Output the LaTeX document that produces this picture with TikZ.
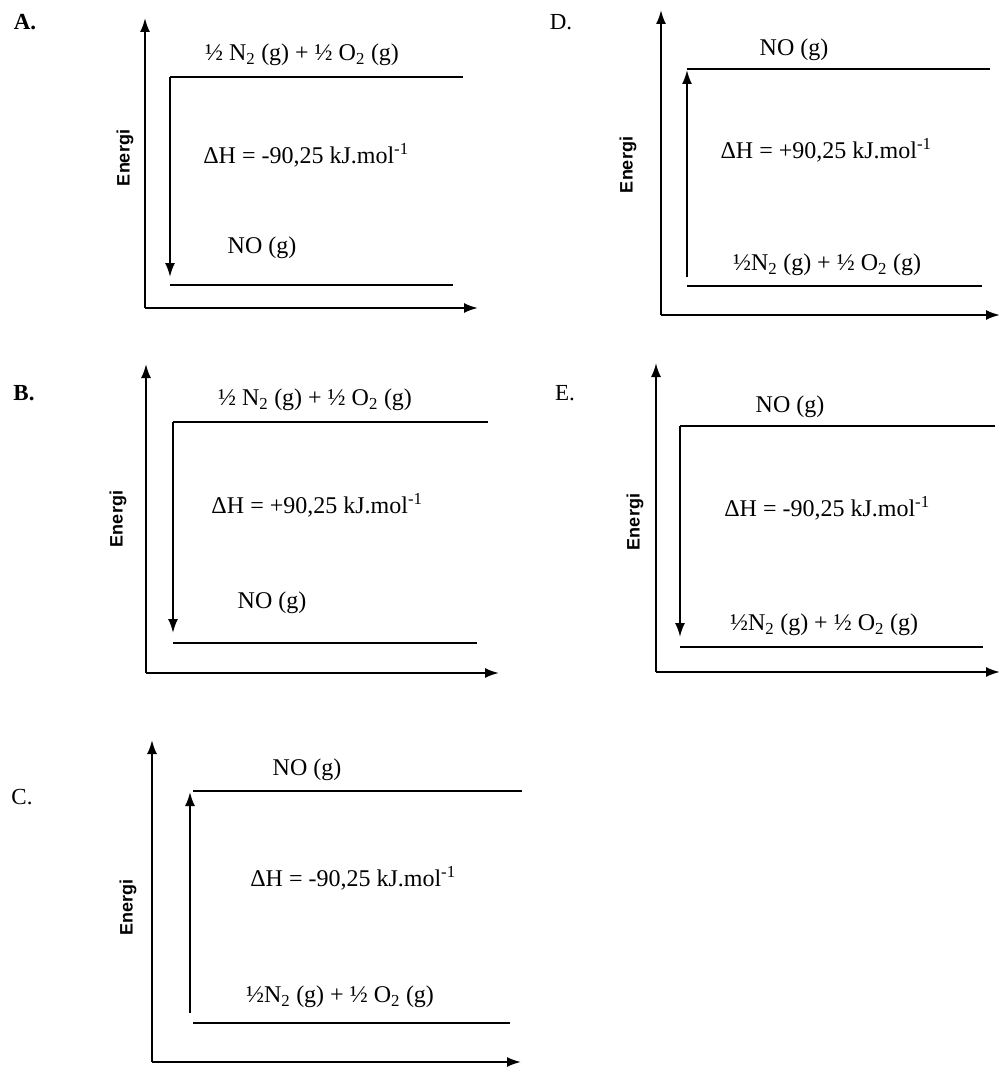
\documentclass[tikz,border=0pt]{standalone}
\usepackage{fontspec}
\setmainfont{Liberation Serif}
\newfontfamily\energifont{Liberation Sans}
\usetikzlibrary{arrows.meta}

% level labels
\newcommand{\reacsp}{½ N\textsubscript{2} (g) + ½ O\textsubscript{2} (g)}
\newcommand{\reacns}{½N\textsubscript{2} (g) + ½ O\textsubscript{2} (g)}
\newcommand{\prodno}{NO (g)}
\newcommand{\dhminus}{ΔH = -90,25 kJ.mol\textsuperscript{-1}}
\newcommand{\dhplus}{ΔH = +90,25 kJ.mol\textsuperscript{-1}}

\begin{document}
\begin{tikzpicture}[
    x=1pt, y=-1pt,
    axis/.style={line width=2pt, -{Latex[length=14pt, width=10pt]}},
    level/.style={line width=2pt},
    dh/.style={line width=2pt, -{Latex[length=14pt, width=10pt]}},
    lbl/.style={inner sep=0pt, font=\fontsize{24}{26}\selectfont},
    ene/.style={inner sep=0pt, rotate=90, font=\energifont\bfseries\fontsize{18}{20}\selectfont},
    opt/.style={inner sep=0pt, font=\fontsize{23}{25}\selectfont},
  ]
    \useasboundingbox (0,0) rectangle (998,1067);

    % A
    \node[opt, font=\fontsize{23}{25}\selectfont\bfseries] (A) at (25,22) {A.};
    \coordinate (A-o) at (145,308);
    \coordinate (A-y) at (145,18);
    \coordinate (A-x) at (478,308);
    \coordinate (A-t1) at (170,77);  \coordinate (A-t2) at (463,77);
    \coordinate (A-b1) at (170,285); \coordinate (A-b2) at (453,285);
    \draw[axis] (A-o) -- (A-y);
    \draw[axis] (A-o) -- (A-x);
    \draw[level] (A-t1) -- (A-t2);
    \draw[level] (A-b1) -- (A-b2);
    \draw[dh, shorten >=8pt] (A-t1) -- (A-b1);
    \node[lbl] (A-top) at (302,55) {\reacsp};
    \node[lbl] (A-dh) at (306,155) {\dhminus};
    \node[lbl] (A-bot) at (262,248) {\prodno};
    \node[ene] (A-e) at (125,158) {Energi};

    % B
    \node[opt, font=\fontsize{23}{25}\selectfont\bfseries] (B) at (24,393) {B.};
    \coordinate (B-o) at (146,673);
    \coordinate (B-y) at (146,364);
    \coordinate (B-x) at (499,673);
    \coordinate (B-t1) at (173,422); \coordinate (B-t2) at (488,422);
    \coordinate (B-b1) at (173,643); \coordinate (B-b2) at (477,643);
    \draw[axis] (B-o) -- (B-y);
    \draw[axis] (B-o) -- (B-x);
    \draw[level] (B-t1) -- (B-t2);
    \draw[level] (B-b1) -- (B-b2);
    \draw[dh, shorten >=10pt] (B-t1) -- (B-b1);
    \node[lbl] (B-top) at (315,400) {\reacsp};
    \node[lbl] (B-dh) at (317,505) {\dhplus};
    \node[lbl] (B-bot) at (272,603) {\prodno};
    \node[ene] (B-e) at (118,519) {Energi};

    % C
    \node[opt] (C) at (22,797) {C.};
    \coordinate (C-o) at (152,1062);
    \coordinate (C-y) at (152,740);
    \coordinate (C-x) at (521,1062);
    \coordinate (C-t1) at (193,791);  \coordinate (C-t2) at (522,791);
    \coordinate (C-b1) at (193,1023); \coordinate (C-b2) at (510,1023);
    \coordinate (C-s) at (190,1013);
    \draw[axis] (C-o) -- (C-y);
    \draw[axis] (C-o) -- (C-x);
    \draw[level] (C-t1) -- (C-t2);
    \draw[level] (C-b1) -- (C-b2);
    \draw[dh, shorten >=1pt] (C-s) -- (C-s |- C-t1);
    \node[lbl] (C-top) at (307,770) {\prodno};
    \node[lbl] (C-dh) at (353,878) {\dhminus};
    \node[lbl] (C-bot) at (340,997) {\reacns};
    \node[ene] (C-e) at (128,907) {Energi};

    % D
    \node[opt] (D) at (561,22) {D.};
    \coordinate (D-o) at (661,315);
    \coordinate (D-y) at (661,10);
    \coordinate (D-x) at (1000,315);
    \coordinate (D-t1) at (687,69);  \coordinate (D-t2) at (990,69);
    \coordinate (D-b1) at (687,286); \coordinate (D-b2) at (982,286);
    \coordinate (D-s) at (687,277);
    \draw[axis] (D-o) -- (D-y);
    \draw[axis] (D-o) -- (D-x);
    \draw[level] (D-t1) -- (D-t2);
    \draw[level] (D-b1) -- (D-b2);
    \draw[dh, shorten >=1pt] (D-s) -- (D-t1);
    \node[lbl] (D-top) at (794,50) {\prodno};
    \node[lbl] (D-dh) at (826,150) {\dhplus};
    \node[lbl] (D-bot) at (827,265) {\reacns};
    \node[ene] (D-e) at (628,165) {Energi};

    % E
    \node[opt] (E) at (565,393) {E.};
    \coordinate (E-o) at (656,672);
    \coordinate (E-y) at (656,363);
    \coordinate (E-x) at (1000,672);
    \coordinate (E-t1) at (680,426); \coordinate (E-t2) at (995,426);
    \coordinate (E-b1) at (680,647); \coordinate (E-b2) at (983,647);
    \draw[axis] (E-o) -- (E-y);
    \draw[axis] (E-o) -- (E-x);
    \draw[level] (E-t1) -- (E-t2);
    \draw[level] (E-b1) -- (E-b2);
    \draw[dh, shorten >=10pt] (E-t1) -- (E-b1);
    \node[lbl] (E-top) at (790,407) {\prodno};
    \node[lbl] (E-dh) at (827,508) {\dhminus};
    \node[lbl] (E-bot) at (824,625) {\reacns};
    \node[ene] (E-e) at (635,522) {Energi};
\end{tikzpicture}
\end{document}
